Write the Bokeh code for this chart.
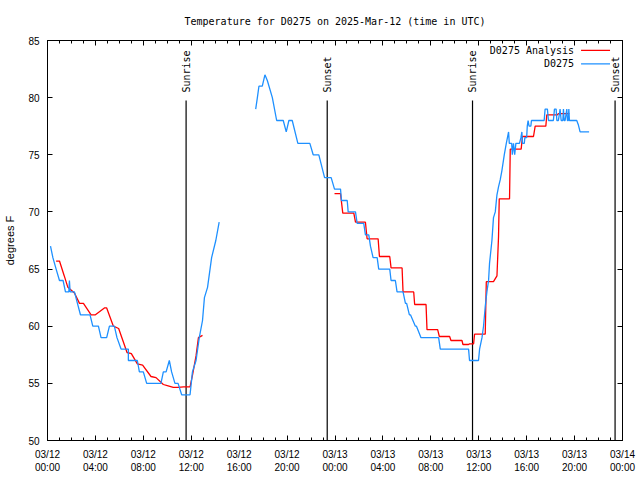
import math
from bokeh.plotting import figure
from bokeh.models import FixedTicker, LinearAxis, Range1d
from bokeh.core.properties import value
from bokeh.embed import file_html
from bokeh.resources import INLINE

nan = float("nan")

# ---- data (x = hours since 03/12 00:00 UTC, y = degrees F) ----
obs_hours = [0.25, 0.45, 0.72, 1.0, 1.3, 1.5, 1.78, 1.83, 1.89, 2.25, 2.5, 2.75, 3.55, 3.78,
             4.25, 4.47, 4.94, 5.17, 5.58, 5.8, 6.14, 6.75, 6.75, 7.5, 7.67, 8.0, 8.28,
             9.47, 9.67, 9.9, 10.17, 10.36, 10.64, 10.9, 11.2, 11.9, 12.1, 12.4, 12.67,
             12.94, 13.1, 13.36, 13.7, 14.05, 14.33,
             nan,
             17.38, 17.52, 17.65, 17.93, 18.15, 18.35, 18.77, 19.13, 19.68, 19.93, 20.15,
             20.43, 20.9, 21.9, 22.18, 22.65, 23.13, 23.68, 23.96, 24.46, 24.54, 25.02,
             25.1, 25.71, 25.85, 26.4, 26.54, 26.82, 26.96, 27.18, 27.52, 27.65, 28.57,
             28.68, 29.04, 29.18, 29.68, 29.88, 29.98, 30.21, 30.3, 30.71, 30.8, 31.18,
             32.65, 32.79, 35.15,
             35.23, 35.98, 36.07, 36.27, 36.4, 36.54, 36.68, 36.82, 36.9, 37.1, 37.23,
             37.38, 37.52, 37.65, 37.79, 37.93, 38.13, 38.3, 38.49, 38.55, 38.75, 38.8,
             38.9, 39.0, 39.1, 39.4, 39.52, 39.6, 39.65, 39.8, 39.85, 40.0, 40.05, 40.12,
             40.2, 40.35, 40.4, 41.46, 41.54, 41.73, 41.82, 42.23, 42.32, 42.46, 42.52,
             42.65, 42.79, 42.88, 43.02, 43.07, 43.13, 43.21, 43.35, 43.4, 43.48, 43.52,
             43.57, 44.18, 44.32, 44.46, 45.21]
obs_temps = [67.0, 66.0, 65.0, 64.0, 64.0, 63.0, 63.0, 64.0, 63.0, 63.0, 62.0, 61.0, 61.0, 60.0,
             60.0, 59.0, 59.0, 60.0, 60.0, 59.0, 58.0, 58.0, 57.0, 57.0, 56.0, 56.0, 55.0,
             55.0, 56.0, 56.0, 57.0, 56.0, 55.0, 55.0, 54.0, 54.0, 56.0, 57.0, 59.0,
             60.5, 62.5, 63.4, 66.0, 67.5, 69.1,
             nan,
             79.0, 80.0, 81.0, 81.0, 82.0, 81.5, 80.0, 78.0, 78.0, 77.0, 78.0,
             78.0, 76.0, 76.0, 75.0, 75.0, 73.0, 73.0, 72.0, 72.0, 71.0, 71.0,
             70.0, 70.0, 69.0, 69.0, 68.0, 68.0, 67.0, 66.0, 66.0, 65.0, 65.0,
             64.0, 64.0, 63.0, 63.0, 62.0, 62.0, 61.0, 61.0, 60.0, 60.0, 59.0,
             59.0, 58.0, 58.0,
             57.0, 57.0, 58.0, 59.0, 60.0, 61.7, 63.0, 64.0, 65.5, 67.5, 69.5,
             70.0, 71.5, 72.2, 72.8, 73.6, 75.0, 76.0, 77.0, 76.0, 76.0, 75.0,
             76.0, 75.0, 76.0, 76.0, 76.5, 77.0, 76.0, 76.0, 76.5, 76.5, 77.5, 78.0,
             77.5, 77.5, 78.0, 78.0, 79.0, 79.0, 78.0, 78.0, 79.0, 79.0, 78.0,
             78.0, 79.0, 78.0, 78.0, 79.0, 78.0, 78.0, 79.0, 78.0, 78.0, 79.0,
             78.0, 78.0, 77.6, 77.0, 77.0]

ana_hours = [0.72, 1.0, 1.4, 1.7, 2.25, 2.67, 3.0, 3.64, 4.0, 4.75, 4.94, 5.5, 5.94, 6.64,
             7.0, 7.5, 7.94, 8.64, 9.06, 9.67, 10.0, 10.5, 10.9, 11.36, 11.9, 12.1, 12.4,
             12.6, 12.94,
             nan,
             23.96, 24.46, 24.65, 25.57, 25.71, 26.54, 26.68, 27.6, 27.71, 28.57, 28.68,
             29.6, 29.68, 30.57, 30.65, 31.6, 31.68, 32.57, 32.71, 33.57, 33.68, 34.6,
             34.68, 35.15, 35.23, 35.57, 35.65, 36.54, 36.63, 37.23, 37.52, 37.65, 37.71,
             38.57, 38.63, 39.54, 39.65, 40.57, 40.71, 41.6, 41.68, 42.57, 42.65, 43.57]
ana_temps = [65.7, 65.7, 64.4, 63.4, 62.9, 62.0, 62.0, 61.0, 61.0, 61.6, 61.6, 60.0, 59.8, 57.7,
             57.6, 56.7, 56.6, 55.6, 55.5, 54.9, 54.8, 54.65, 54.65, 54.7, 54.7, 55.7, 57.4,
             59.0, 59.2,
             nan,
             71.6, 71.6, 69.9, 69.9, 69.1, 69.1, 67.65, 67.65, 66.1, 66.1, 65.1,
             65.1, 63.0, 63.0, 61.9, 61.9, 59.7, 59.7, 59.1, 59.1, 58.75, 58.75,
             58.4, 58.4, 58.45, 58.45, 59.3, 59.3, 63.9, 63.9, 64.4, 67.8, 71.15,
             71.15, 75.5, 75.5, 76.6, 76.6, 77.5, 77.5, 78.5, 78.5, 78.6, 78.6]

sun_hours = [11.57, 23.35, 35.48, 47.38]
sun_labels = ["Sunrise", "Sunset", "Sunrise", "Sunset"]

x_tick_hours = [0, 4, 8, 12, 16, 20, 24, 28, 32, 36, 40, 44, 48]
x_tick_labels = ["03/12\n00:00", "03/12\n04:00", "03/12\n08:00", "03/12\n12:00",
                 "03/12\n16:00", "03/12\n20:00", "03/13\n00:00", "03/13\n04:00",
                 "03/13\n08:00", "03/13\n12:00", "03/13\n16:00", "03/13\n20:00",
                 "03/14\n00:00"]
y_ticks = [50, 55, 60, 65, 70, 75, 80, 85]

series_names = ["D0275 Analysis", "D0275"]
series_colors = ["#ff0000", "#1e90ff"]

TITLE = "Temperature for D0275 on 2025-Mar-12 (time in UTC)"
MONO = "DejaVu Sans Mono"
SANS = "Liberation Sans"

p = figure(width=640, height=480, x_range=Range1d(0, 48), y_range=Range1d(50, 85),
           output_backend="svg", toolbar_location=None,
           min_border_left=47, min_border_right=18, min_border_top=40, min_border_bottom=40)
p.background_fill_color = "white"
p.border_fill_color = "white"
p.outline_line_color = "black"
p.outline_line_width = 1
p.xgrid.visible = False
p.ygrid.visible = False

p.title.text = TITLE
p.title.align = "center"
p.title.vertical_align = "top"
p.title.text_font = MONO
p.title.text_font_size = "10px"
p.title.text_font_style = "normal"
p.title.text_color = "black"
p.title.standoff = 24

minor_hours = list(range(0, 49))

def style_axis(ax):
    ax.axis_line_color = "black"
    ax.major_tick_line_color = "black"
    ax.minor_tick_line_color = "black"
    ax.major_tick_in = 5
    ax.major_tick_out = 0
    ax.minor_tick_in = 3
    ax.minor_tick_out = 0
    ax.major_label_text_font = SANS
    ax.major_label_text_font_size = "10px"
    ax.major_label_text_color = "black"

xa = p.xaxis[0]
xa.ticker = FixedTicker(ticks=x_tick_hours, minor_ticks=minor_hours)
xa.major_label_overrides = dict(zip(x_tick_hours, x_tick_labels))
style_axis(xa)
xa.major_label_standoff = 8

ya = p.yaxis[0]
ya.ticker = FixedTicker(ticks=y_ticks)
style_axis(ya)
ya.minor_tick_line_color = None
ya.major_label_standoff = 8
ya.axis_label = "degrees F"
ya.axis_label_text_font = SANS
ya.axis_label_text_font_size = "11px"
ya.axis_label_text_font_style = "normal"
ya.axis_label_text_color = "black"
ya.axis_label_standoff = 9

top = LinearAxis(ticker=FixedTicker(ticks=x_tick_hours, minor_ticks=minor_hours),
                 major_label_overrides={t: "" for t in x_tick_hours})
style_axis(top)
top.major_label_standoff = 0
top.major_label_text_font_size = "1px"
p.add_layout(top, "above")

right = LinearAxis(ticker=FixedTicker(ticks=y_ticks),
                   major_label_overrides={t: "" for t in y_ticks})
style_axis(right)
right.minor_tick_line_color = None
right.major_label_standoff = 0
right.major_label_text_font_size = "1px"
p.add_layout(right, "right")

# sunrise / sunset markers
p.segment(x0=sun_hours, y0=50, x1=sun_hours, y1=79.75, line_color="black", line_width=1.2)
p.text(x=sun_hours, y=[80.45] * len(sun_hours), text=sun_labels, angle=math.pi / 2,
       text_align="left", text_baseline="middle", text_font=value(MONO),
       text_font_size="10px", text_color="black")

# data
p.line(ana_hours, ana_temps, line_color=series_colors[0], line_width=1.3)
p.line(obs_hours, obs_temps, line_color=series_colors[1], line_width=1.3)

# gnuplot-style key (text, then sample line)
key_y = [84.13, 82.96]
p.text(x=[43.96, 43.96], y=key_y, text=series_names, text_align="right",
       text_baseline="middle", text_font=value(MONO), text_font_size="10px",
       text_color="black")
p.segment(x0=[44.54, 44.54], y0=key_y, x1=[46.96, 46.96], y1=key_y,
          line_color=series_colors, line_width=1.3)

open("out.html", "w").write(file_html(p, INLINE))
